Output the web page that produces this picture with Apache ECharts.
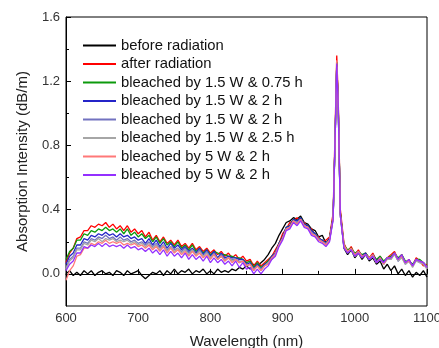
<!DOCTYPE html>
<html><head><meta charset="utf-8">
<script src="https://cdn.jsdelivr.net/npm/echarts@6/dist/echarts.min.js"></script>
<style>html,body{margin:0;padding:0;background:#fff}#c{width:439px;height:348px}</style>
</head><body><div id="c"></div>
<script>
const wavelengths = [
600,605,610,615,620,625,630,635,640,645,
650,655,660,665,670,675,680,685,690,695,
700,705,710,715,720,725,730,735,740,745,
750,755,760,765,770,775,780,785,790,795,
800,805,810,815,820,825,830,835,840,845,
850,855,860,865,870,875,880,885,890,895,
900,905,910,915,920,925,930,935,940,945,
950,955,960,965,970,973,975,977,980,985,
990,995,1000,1005,1010,1015,1020,1025,1030,1035,
1040,1045,1050,1055,1060,1065,1070,1075,1080,1085,
1090,1095,1100];

const seriesNames = ["before radiation","after radiation","bleached by 1.5 W & 0.75 h","bleached by 1.5 W & 2 h","bleached by 1.5 W & 2 h ","bleached by 1.5 W & 2.5 h","bleached by 5 W & 2 h","bleached by 5 W & 2 h "];
const seriesColors = ["#000000","#ff0000","#0c9a0c","#2424c8","#7272c0","#a6a6a6","#ff7878","#9430ff"];

const beforeRad = [
.00,.02,-.01,.01,-.01,.02,.00,.02,-.01,.01,
.02,.00,.01,-.01,.02,.01,-.01,.02,.00,.01,
.02,-.01,-.03,-.01,.01,.00,.02,-.01,.02,.00,
.03,.00,.02,.01,.03,.00,.02,.01,.03,.00,
.02,.00,.03,.01,.02,.01,.03,.02,.04,.03,
.05,.03,.06,.05,.07,.09,.12,.16,.19,.24,
.28,.32,.33,.35,.34,.36,.32,.31,.28,.27,
.23,.24,.19,.22,.35,.88,1.31,1.08,.38,.16,
.12,.15,.10,.13,.09,.12,.08,.10,.06,.08,
.03,.06,.02,.05,.00,.03,-.01,.02,-.02,.01,
-.01,.02,-.02];
const afterRad = [
.07,.13,.16,.22,.23,.27,.27,.30,.29,.31,
.30,.32,.29,.31,.28,.30,.27,.30,.26,.28,
.25,.27,.23,.26,.21,.24,.20,.23,.19,.21,
.18,.21,.17,.19,.16,.19,.15,.17,.14,.16,
.13,.15,.12,.14,.11,.13,.10,.12,.09,.11,
.08,.09,.05,.08,.05,.07,.09,.11,.15,.19,
.25,.28,.32,.33,.35,.33,.32,.29,.28,.24,
.23,.20,.21,.23,.38,.95,1.36,1.10,.40,.19,
.14,.17,.12,.15,.11,.13,.10,.13,.08,.11,
.07,.10,.12,.14,.09,.12,.07,.09,.05,.10,
.08,.05,.06];
const bl15w075h = [
.09,.14,.16,.21,.21,.25,.24,.27,.26,.28,
.27,.29,.27,.28,.26,.28,.25,.28,.24,.26,
.23,.25,.22,.24,.20,.23,.19,.22,.18,.20,
.17,.20,.16,.18,.15,.18,.14,.16,.13,.15,
.12,.14,.13,.12,.12,.11,.11,.10,.10,.09,
.07,.08,.04,.07,.04,.06,.08,.11,.13,.19,
.23,.29,.30,.34,.33,.35,.31,.30,.27,.25,
.22,.21,.19,.22,.36,.90,1.32,1.06,.38,.18,
.15,.16,.13,.14,.12,.13,.10,.12,.09,.11,
.08,.10,.11,.13,.10,.12,.08,.08,.06,.09,
.09,.07,.05];
const bl15w2hA = [
.06,.11,.13,.18,.18,.22,.21,.24,.23,.25,
.24,.26,.24,.25,.23,.25,.23,.24,.22,.23,
.21,.22,.19,.22,.18,.21,.17,.20,.16,.19,
.16,.18,.15,.17,.14,.16,.13,.16,.12,.15,
.11,.14,.10,.13,.10,.11,.10,.10,.09,.09,
.06,.07,.03,.06,.03,.06,.07,.11,.13,.19,
.23,.29,.30,.34,.33,.35,.31,.30,.27,.25,
.22,.21,.19,.22,.35,.90,1.30,1.05,.37,.17,
.14,.15,.12,.14,.11,.13,.09,.12,.08,.10,
.07,.10,.10,.13,.08,.11,.07,.08,.05,.09,
.08,.07,.04];
const bl15w2hB = [
.04,.09,.11,.16,.16,.20,.19,.22,.21,.23,
.22,.24,.22,.23,.21,.23,.21,.22,.20,.21,
.19,.20,.18,.20,.17,.19,.16,.18,.15,.17,
.15,.16,.14,.16,.13,.15,.12,.15,.11,.14,
.10,.13,.09,.12,.09,.10,.09,.09,.08,.08,
.05,.06,.03,.05,.03,.05,.07,.10,.13,.18,
.22,.28,.29,.33,.32,.34,.30,.29,.26,.24,
.22,.20,.19,.21,.34,.88,1.29,1.04,.36,.17,
.14,.15,.11,.14,.11,.12,.09,.11,.07,.10,
.06,.10,.09,.13,.08,.11,.06,.08,.05,.09,
.07,.07,.04];
const bl15w25h = [
.03,.08,.10,.15,.15,.19,.18,.21,.20,.22,
.20,.22,.21,.22,.20,.21,.20,.21,.19,.20,
.18,.19,.17,.19,.16,.18,.15,.18,.14,.17,
.14,.16,.13,.15,.12,.15,.12,.14,.11,.13,
.10,.12,.09,.11,.08,.10,.08,.09,.07,.08,
.05,.06,.02,.05,.02,.05,.07,.09,.12,.18,
.22,.28,.29,.33,.31,.34,.30,.29,.25,.24,
.21,.20,.18,.21,.34,.88,1.29,1.04,.36,.17,
.13,.15,.11,.13,.10,.12,.09,.11,.07,.09,
.06,.09,.09,.12,.08,.10,.06,.08,.04,.08,
.07,.06,.03];
const bl5w2hA = [
-.04,.02,.05,.11,.12,.16,.16,.19,.18,.20,
.19,.21,.19,.20,.19,.20,.18,.19,.18,.19,
.17,.18,.16,.18,.15,.17,.14,.17,.13,.16,
.13,.15,.12,.14,.11,.14,.11,.13,.10,.12,
.09,.12,.09,.11,.08,.10,.07,.09,.07,.08,
.05,.06,.02,.05,.02,.05,.06,.10,.12,.18,
.22,.28,.29,.33,.31,.34,.30,.29,.25,.24,
.21,.20,.18,.21,.35,.90,1.33,1.06,.37,.18,
.14,.16,.12,.14,.11,.12,.10,.12,.07,.10,
.06,.10,.10,.13,.09,.11,.07,.08,.05,.09,
.08,.07,.04];
const bl5w2hB = [
.02,.06,.08,.13,.13,.17,.16,.18,.17,.19,
.17,.19,.17,.18,.17,.18,.16,.18,.16,.17,
.15,.16,.14,.16,.13,.15,.12,.15,.11,.14,
.11,.13,.10,.13,.09,.12,.09,.11,.08,.11,
.07,.10,.07,.09,.06,.08,.05,.08,.04,.07,
.03,.04,.00,.03,.00,.03,.05,.09,.11,.17,
.21,.27,.28,.32,.30,.33,.29,.28,.24,.23,
.20,.19,.17,.20,.34,.90,1.31,1.05,.36,.16,
.13,.15,.11,.13,.10,.12,.09,.11,.07,.09,
.07,.10,.10,.13,.09,.12,.07,.09,.05,.09,
.08,.07,.04];

const allValues = [beforeRad, afterRad, bl15w075h, bl15w2hA, bl15w2hB, bl15w25h, bl5w2hA, bl5w2hB];
const yMajorTicks = [0.0, 0.4, 0.8, 1.2, 1.6];
const yMinorTicks = [0.2, 0.6, 1.0, 1.4];
const xTickLabels = [600, 700, 800, 900, 1000, 1100];

const FONT = "'Liberation Sans', Arial, sans-serif";
const chart = echarts.init(document.getElementById('c'), null, {renderer: 'canvas'});
chart.setOption({
  animation: false,
  backgroundColor: '#fff',
  grid: {left: 66, right: 12, top: 17, bottom: 42, outerBoundsMode: 'none', containLabel: false,
    show: true, borderColor: '#000', borderWidth: 1, backgroundColor: 'transparent'},
  legend: {
    orient: 'vertical', left: 82, top: 38, padding: 0, itemWidth: 33, itemHeight: 14, itemGap: 3.5,
    selectedMode: false, data: seriesNames,
    itemStyle: {opacity: 0, borderWidth: 0},
    textStyle: {fontFamily: FONT, fontSize: 14.8, color: '#111'}
  },
  xAxis: {
    type: 'value', min: xTickLabels[0], max: xTickLabels[xTickLabels.length - 1], interval: 100,
    name: 'Wavelength (nm)', nameLocation: 'middle', nameGap: 28,
    nameTextStyle: {fontFamily: FONT, fontSize: 15, color: '#222'},
    axisLine: {lineStyle: {color: '#000', width: 1}},
    axisTick: {inside: true, length: 5, lineStyle: {color: '#000'}},
    minorTick: {show: true, splitNumber: 2, length: 3, lineStyle: {color: '#000'}},
    splitLine: {show: false},
    axisLabel: {fontFamily: FONT, fontSize: 13, color: '#333', margin: 6, formatter: v => String(v)}
  },
  yAxis: [{
    type: 'value', min: -0.2, max: 1.6,
    name: 'Absorption Intensity (dB/m)', nameLocation: 'middle', nameGap: 36,
    nameTextStyle: {fontFamily: FONT, fontSize: 15, color: '#222'},
    axisLine: {show: true, lineStyle: {color: '#000', width: 1}},
    axisTick: {inside: true, length: 5, customValues: yMajorTicks, lineStyle: {color: '#000'}},
    splitLine: {show: false},
    axisLabel: {fontFamily: FONT, fontSize: 13, color: '#333', margin: 6, customValues: yMajorTicks,
      formatter: v => v.toFixed(1)}
  }, {
    type: 'value', min: -0.2, max: 1.6, position: 'left',
    axisLine: {show: false},
    axisTick: {show: true, inside: true, length: 3, customValues: yMinorTicks, lineStyle: {color: '#000'}},
    axisLabel: {show: false},
    splitLine: {show: false}
  }],
  series: allValues.map((vals, i) => ({
    name: seriesNames[i], type: 'line', symbol: 'none', yAxisIndex: 0,
    data: wavelengths.map((w, j) => [w, vals[j]]),
    lineStyle: {color: seriesColors[i], width: 1.3},
    itemStyle: {color: 'rgba(0,0,0,0)', borderWidth: 0}
  }))
});
</script></body></html>
